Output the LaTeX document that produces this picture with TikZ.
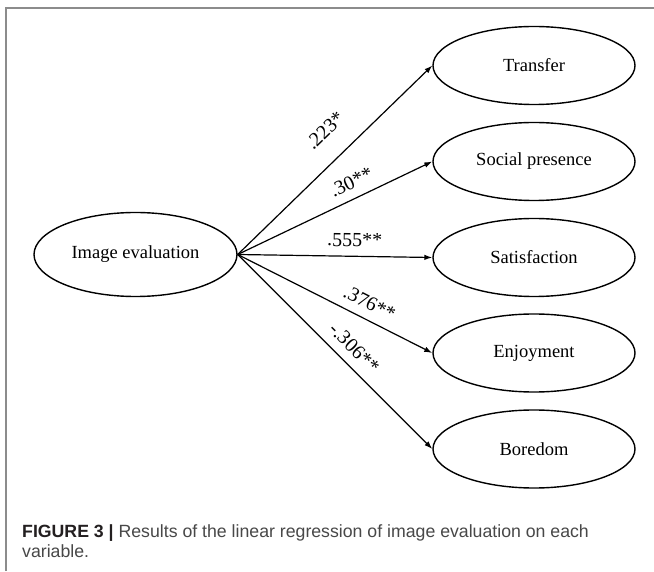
\documentclass[tikz,border=0pt]{standalone}
\usepackage{fontspec}
\setmainfont{Liberation Serif}
\newfontfamily\capfont{Liberation Sans}
\usetikzlibrary{arrows.meta,shapes.geometric}
\definecolor{framegray}{RGB}{140,140,140}
\definecolor{captext}{RGB}{72,72,72}
\definecolor{capbold}{RGB}{35,31,32}
\tikzset{
  var/.style={ellipse, draw=black, line width=1.4pt, inner sep=0pt,
    minimum width=202pt, minimum height=78pt, font=\fontsize{18.5}{22}\selectfont},
  conn/.style={line width=1.2pt, -{Latex[length=8pt,width=5.5pt]}},
  coef/.style={sloped, above=9pt, inner sep=0pt, font=\fontsize{20}{24}\selectfont},
  capline/.style={anchor=base west, inner sep=0pt, font=\capfont\fontsize{17.7}{22}\selectfont, text=captext}
}
\begin{document}
\begin{tikzpicture}[x=1pt,y=1pt]
\useasboundingbox (0,0) rectangle (654,571);
\fill[white] (0,0) rectangle (654,571);
% frame
\draw[framegray, line width=2pt] (6,0) -- (6,563) -- (654,563);
% nodes
\node[var, minimum width=203pt, minimum height=84pt] (ie) at (135.5,316.5) {Image evaluation};
\node[var] (tr) at (534,505.5) {Transfer};
\node[var] (sp) at (534,409.5) {Social presence};
\node[var] (sa) at (534,313.5) {Satisfaction};
\node[var] (en) at (534,218) {Enjoyment};
\node[var] (bo) at (534,122) {Boredom};
% connectors
\draw[conn] (ie.east) -- node[coef, pos=0.55, above=12pt] {.223*} (tr.west);
\draw[conn] (ie.east) -- node[coef, pos=0.62] {.30**} (sp.west);
\draw[conn] (ie.east) -- node[coef, pos=0.60] {.555**} (sa.west);
\draw[conn] (ie.east) -- node[coef, pos=0.64] {.376**} (en.west);
\draw[conn] (ie.east) -- node[coef, pos=0.54] {-.306**} (bo.west);
% caption
\node[capline] (cap1) at (22,34) {{\bfseries\color{capbold}FIGURE 3 |} Results of the linear regression of image evaluation on each};
\node[capline] (cap2) at (22,13) {variable.};
\end{tikzpicture}
\end{document}
